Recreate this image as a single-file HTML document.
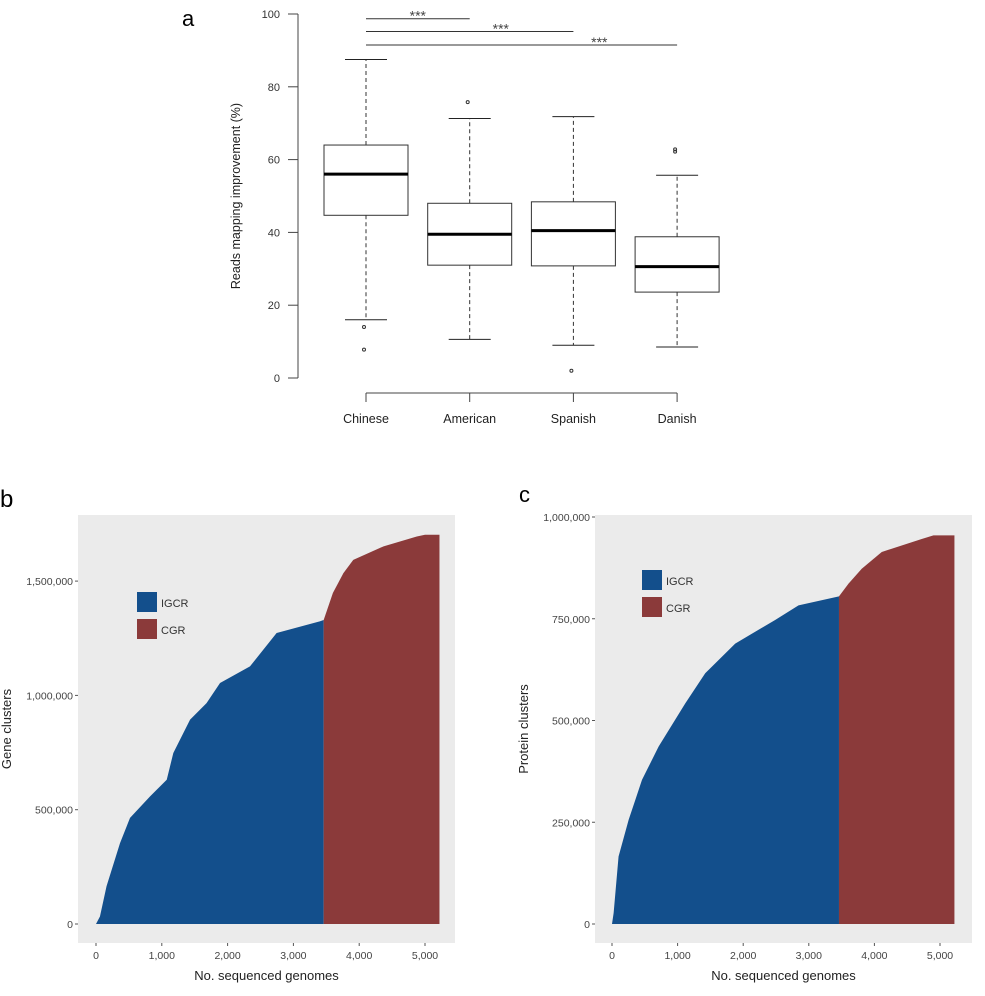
<!DOCTYPE html>
<html><head><meta charset="utf-8"><style>
body{margin:0;background:#fff;}
svg{display:block;font-family:"Liberation Sans",Arial,sans-serif;}
</style></head><body>
<svg id="fig" width="985" height="996" viewBox="0 0 985 996" xmlns="http://www.w3.org/2000/svg">
<text x="182" y="26" font-size="22">a</text>
<text x="0" y="507" font-size="24">b</text>
<text x="519" y="502" font-size="22">c</text>
<g id="pa"></g>
<g id="pb"></g>
<g id="pc"></g>
</svg>
<script>
const NS="http://www.w3.org/2000/svg";
function mk(p,t,a,txt){const e=document.createElementNS(NS,t);for(const k in a)e.setAttribute(k,a[k]);if(txt!==undefined)e.textContent=txt;p.appendChild(e);return e;}

// ---- Panel a data ----
const groups=["Chinese","American","Spanish","Danish"];
const whiskLow=[16,10.6,9,8.5];
const q1=[44.7,31,30.8,23.6];
const medians=[56,39.5,40.5,30.6];
const q3=[64,48,48.4,38.8];
const whiskHigh=[87.5,71.3,71.8,55.7];
const outliers=[[14,7.8],[75.8],[2],[62.2,62.8]];
const yTicksA=[0,20,40,60,80,100];
const sigPairs=[[0,1,98.7],[0,2,95.2],[0,3,91.5]];

// ---- Panel b data ----
const bBlueX=[0,60,160,365,517,820,1075,1175,1430,1680,1885,2340,2745,3400,3460];
const bBlueY=[0,33000,165000,354000,464000,558000,631000,748000,894000,966000,1054000,1127000,1273000,1324000,1330000];
const bRedX=[3460,3600,3760,3910,4370,4875,5000,5220];
const bRedY=[1330000,1448000,1535000,1593000,1652000,1695000,1703000,1703000];
const xTicks=[0,1000,2000,3000,4000,5000];
const bYTicks=[0,500000,1000000,1500000];

// ---- Panel c data ----
const cBlueX=[0,25,100,254,457,711,1117,1421,1878,2487,2843,3460];
const cBlueY=[0,27000,166000,256000,354000,436000,542000,616000,689000,747000,783000,805000];
const cRedX=[3460,3604,3807,4112,4721,4900,5220];
const cRedY=[805000,836000,873000,914000,946000,955000,955000];
const cYTicks=[0,250000,500000,750000,1000000];

// ---- draw a ----
(function(){
const g=document.getElementById('pa');
const y=v=>378-(v/100)*364;
const xc=i=>366+i*103.7;
const hw=42;
mk(g,'line',{x1:298,y1:y(0),x2:298,y2:y(100),stroke:'#444','stroke-width':1});
yTicksA.forEach(t=>{
 mk(g,'line',{x1:288,y1:y(t),x2:298,y2:y(t),stroke:'#444'});
 const tx=mk(g,'text',{x:280,y:y(t)+4,'font-size':11,'text-anchor':'end',fill:'#333'},t);
 
 
});
const yl=mk(g,'text',{x:240,y:y(50),'font-size':12.5,'text-anchor':'middle',fill:'#222',transform:`rotate(-90 240 ${y(50)})`},'Reads mapping improvement (%)');

mk(g,'line',{x1:xc(0),y1:393,x2:xc(3),y2:393,stroke:'#444'});
groups.forEach((n,i)=>{
 const cx=xc(i);
 mk(g,'line',{x1:cx,y1:393,x2:cx,y2:402,stroke:'#444'});
 const lb=mk(g,'text',{x:cx,y:423,'font-size':12.5,'text-anchor':'middle',fill:'#222'},n);
 
 const bx=mk(g,'g',{});
 
 
 mk(bx,'line',{x1:cx,y1:y(q3[i]),x2:cx,y2:y(whiskHigh[i]),stroke:'#333','stroke-dasharray':'4,3'});
 mk(bx,'line',{x1:cx,y1:y(q1[i]),x2:cx,y2:y(whiskLow[i]),stroke:'#333','stroke-dasharray':'4,3'});
 mk(bx,'line',{x1:cx-21,y1:y(whiskHigh[i]),x2:cx+21,y2:y(whiskHigh[i]),stroke:'#222'});
 mk(bx,'line',{x1:cx-21,y1:y(whiskLow[i]),x2:cx+21,y2:y(whiskLow[i]),stroke:'#222'});
 mk(bx,'rect',{x:cx-hw,y:y(q3[i]),width:2*hw,height:y(q1[i])-y(q3[i]),fill:'#fff',stroke:'#333'});
 mk(bx,'line',{x1:cx-hw,y1:y(medians[i]),x2:cx+hw,y2:y(medians[i]),stroke:'#000','stroke-width':3});
 outliers[i].forEach(o=>mk(bx,'circle',{cx:cx-2,cy:y(o),r:1.5,fill:'none',stroke:'#333'}));
});
sigPairs.forEach((p,k)=>{
 const a=xc(p[0]),b=xc(p[1]),yy=y(p[2]);
 const s=mk(g,'line',{x1:a,y1:yy,x2:b,y2:yy,stroke:'#333'});
 
 const sx=a+(b-a)*[0.5,0.65,0.75][k];
 mk(g,'text',{x:sx,y:yy+2,'font-size':14,'text-anchor':'middle',fill:'#444'},'***');
});
})();

// ---- area panels ----
function areaPanel(id,bg,x0px,x5px,y0px,yScale,blueX,blueY,redX,redY,yTicks,title,legX,legY){
 const g=document.getElementById(id);
 const X=v=>x0px+(v/5000)*(x5px-x0px);
 const Y=v=>y0px-v*yScale;
 mk(g,'rect',{x:bg[0],y:bg[1],width:bg[2],height:bg[3],fill:'#ebebeb'});
 function poly(xs,ys,col,name){
  let d=`M${X(xs[0])},${Y(0)}`;
  xs.forEach((v,i)=>{d+=` L${X(v)},${Y(ys[i])}`;});
  d+=` L${X(xs[xs.length-1])},${Y(0)} Z`;
  const p=mk(g,'path',{d:d,fill:col});
  
 }
 poly(blueX,blueY,'#134f8c','area-igcr');
 poly(redX,redY,'#8b3a3a','area-cgr');
 yTicks.forEach(t=>{
  mk(g,'line',{x1:bg[0]-3,y1:Y(t),x2:bg[0],y2:Y(t),stroke:'#555'});
  const tl=mk(g,'text',{x:bg[0]-5,y:Y(t)+4,'font-size':10.5,'text-anchor':'end',fill:'#444'},t.toLocaleString('en-US'));
  
 });
 xTicks.forEach(t=>{
  mk(g,'line',{x1:X(t),y1:bg[1]+bg[3],x2:X(t),y2:bg[1]+bg[3]+3,stroke:'#555'});
  const tl=mk(g,'text',{x:X(t),y:bg[1]+bg[3]+16,'font-size':10.5,'text-anchor':'middle',fill:'#444'},t.toLocaleString('en-US'));
  
 });
 const xt=mk(g,'text',{x:bg[0]+bg[2]/2,y:bg[1]+bg[3]+37,'font-size':13,'text-anchor':'middle',fill:'#222'},'No. sequenced genomes');
 
 const tx=bg[0]-67, ty=bg[1]+bg[3]/2;
 const yt=mk(g,'text',{x:tx,y:ty,'font-size':13,'text-anchor':'middle',fill:'#222',transform:`rotate(-90 ${tx} ${ty})`},title);
 
 const lg=mk(g,'g',{});
 
 mk(lg,'rect',{x:legX,y:legY,width:20,height:20,fill:'#134f8c'});
 mk(lg,'rect',{x:legX,y:legY+27,width:20,height:20,fill:'#8b3a3a'});
 mk(lg,'text',{x:legX+24,y:legY+15,'font-size':11,fill:'#333'},'IGCR');
 mk(lg,'text',{x:legX+24,y:legY+42,'font-size':11,fill:'#333'},'CGR');
}
areaPanel('pb',[78,515,377,428],96,425,924,114.3/500000*1,bBlueX,bBlueY,bRedX,bRedY,bYTicks,'Gene clusters',137,592);
areaPanel('pc',[595,515,377,428],612,940,924,407/1000000,cBlueX,cBlueY,cRedX,cRedY,cYTicks,'Protein clusters',642,570);
</script>
</body></html>
